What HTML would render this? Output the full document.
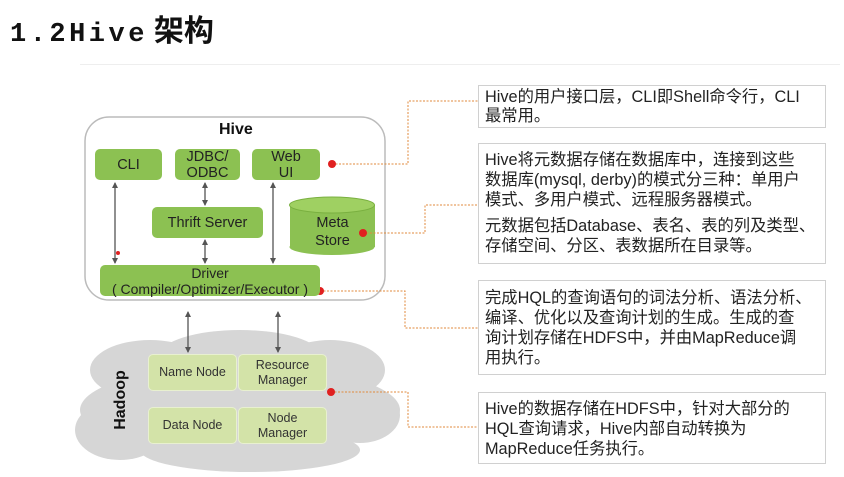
<!DOCTYPE html>
<html><head><meta charset="utf-8"><style>
body{margin:0;width:844px;height:477px;background:#fff;position:relative;overflow:hidden;font-family:"Liberation Sans","Noto Sans CJK SC",sans-serif;}
.a{position:absolute}
.g{position:absolute;background:#8cc152;border-radius:5px;color:#222;text-align:center;font-size:14.5px;line-height:16px;display:flex;align-items:center;justify-content:center;}
.h{position:absolute;background:#d3e3a8;border:1px solid #e8f0d0;border-radius:5px;color:#333;text-align:center;font-size:12.5px;line-height:15px;display:flex;align-items:center;justify-content:center;}
.t{position:absolute;border:1px solid #d0d0d0;background:#fff;font-size:16.3px;line-height:20px;color:#222;padding:3px 6px;box-sizing:border-box;white-space:nowrap;}
</style></head><body>
<div class="a" style="left:10px;top:6px;font-family:'Liberation Mono','Noto Sans CJK SC',monospace;font-weight:bold;font-size:27px;letter-spacing:3.5px;color:#111">1.2Hive<span style="font-family:'Noto Sans CJK SC',sans-serif;margin-left:6px;font-size:30px;letter-spacing:0">架构</span></div>
<div class="a" style="left:80px;top:64px;width:760px;height:1px;background:#eee"></div>
<svg class="a" style="left:0;top:0" width="844" height="477">
<g fill="#d6d6d6">
<ellipse cx="240" cy="410" rx="160" ry="45"/>
<ellipse cx="150" cy="370" rx="60" ry="30"/><ellipse cx="240" cy="355" rx="80" ry="25"/>
<ellipse cx="330" cy="370" rx="55" ry="30"/><ellipse cx="120" cy="430" rx="45" ry="30"/>
<ellipse cx="250" cy="450" rx="110" ry="22"/><ellipse cx="360" cy="415" rx="40" ry="28"/>
</g>
<rect x="85" y="117" width="300" height="183" rx="24" fill="#fff" stroke="#bbb" stroke-width="1.5"/>
<g stroke="#555" stroke-width="1.3" fill="none">
<line x1="115" y1="183" x2="115" y2="263"/><line x1="205" y1="183" x2="205" y2="205"/>
<line x1="205" y1="240" x2="205" y2="263"/><line x1="273" y1="183" x2="273" y2="263"/>
<line x1="188" y1="312" x2="188" y2="352"/><line x1="278" y1="312" x2="278" y2="352"/>
</g>
<g fill="#555">
<path d="M115 182l-3 6h6z M115 264l-3-6h6z M205 182l-3 6h6z M205 206l-3-6h6z M205 239l-3 6h6z M205 264l-3-6h6z M273 182l-3 6h6z M273 264l-3-6h6z M188 311l-3 6h6z M188 353l-3-6h6z M278 311l-3 6h6z M278 353l-3-6h6z"/>
</g>
<g fill="#8cc152"><rect x="290" y="205" width="85" height="42"/><ellipse cx="332" cy="247" rx="42.5" ry="8"/></g>
<ellipse cx="332" cy="205" rx="42.5" ry="8" fill="#9fd062" stroke="#7ab040"/>
<g stroke="#e08a3c" stroke-width="1" stroke-dasharray="2,1.5" fill="none">
<polyline points="332,164 408,164 408,101 478,101"/>
<polyline points="363,233 425,233 425,205 478,205"/>
<polyline points="320,291 405,291 405,328 478,328"/>
<polyline points="331,392 408,392 408,427 478,427"/>
</g>
<g fill="#e02020"><circle cx="332" cy="164" r="4"/><circle cx="363" cy="233" r="4"/><circle cx="320" cy="291" r="4"/><circle cx="331" cy="392" r="4"/><circle cx="118" cy="253" r="2"/></g>
<text x="125" y="400" transform="rotate(-90 125 400)" text-anchor="middle" font-family="Liberation Sans" font-weight="bold" font-size="16" fill="#111">Hadoop</text>
</svg>
<div class="a" style="left:219px;top:121px;font-weight:bold;font-size:16px;color:#111">Hive</div>
<div class="g" style="left:95px;top:149px;width:67px;height:31px">CLI</div>
<div class="g" style="left:175px;top:149px;width:65px;height:31px">JDBC/<br>ODBC</div>
<div class="g" style="left:252px;top:149px;width:68px;height:31px">Web<br>UI</div>
<div class="g" style="left:152px;top:207px;width:111px;height:31px">Thrift Server</div>
<div class="a" style="left:290px;top:214px;width:85px;text-align:center;font-size:14.5px;line-height:18px;color:#222">Meta<br>Store</div>
<div class="g" style="left:100px;top:265px;width:220px;height:31px;font-size:14px">Driver<br>( Compiler/Optimizer/Executor )</div>
<div class="h" style="left:148px;top:354px;width:87px;height:35px">Name Node</div>
<div class="h" style="left:238px;top:354px;width:87px;height:35px">Resource<br>Manager</div>
<div class="h" style="left:148px;top:407px;width:87px;height:35px">Data Node</div>
<div class="h" style="left:238px;top:407px;width:87px;height:35px">Node<br>Manager</div>
<div class="t" style="left:478px;top:85px;width:348px;height:43px;line-height:19px;padding-top:2px">Hive的用户接口层，CLI即Shell命令行，CLI<br>最常用。</div>
<div class="t" style="left:478px;top:143px;width:348px;height:121px;padding-top:6px">Hive将元数据存储在数据库中，连接到这些<br>数据库(mysql, derby)的模式分三种：单用户<br>模式、多用户模式、远程服务器模式。<div style="height:6px"></div>元数据包括Database、表名、表的列及类型、<br>存储空间、分区、表数据所在目录等。</div>
<div class="t" style="left:478px;top:280px;width:348px;height:95px;padding-top:7px">完成HQL的查询语句的词法分析、语法分析、<br>编译、优化以及查询计划的生成。生成的查<br>询计划存储在HDFS中，并由MapReduce调<br>用执行。</div>
<div class="t" style="left:478px;top:392px;width:348px;height:72px;padding-top:6px">Hive的数据存储在HDFS中，针对大部分的<br>HQL查询请求，Hive内部自动转换为<br>MapReduce任务执行。</div>
</body></html>
